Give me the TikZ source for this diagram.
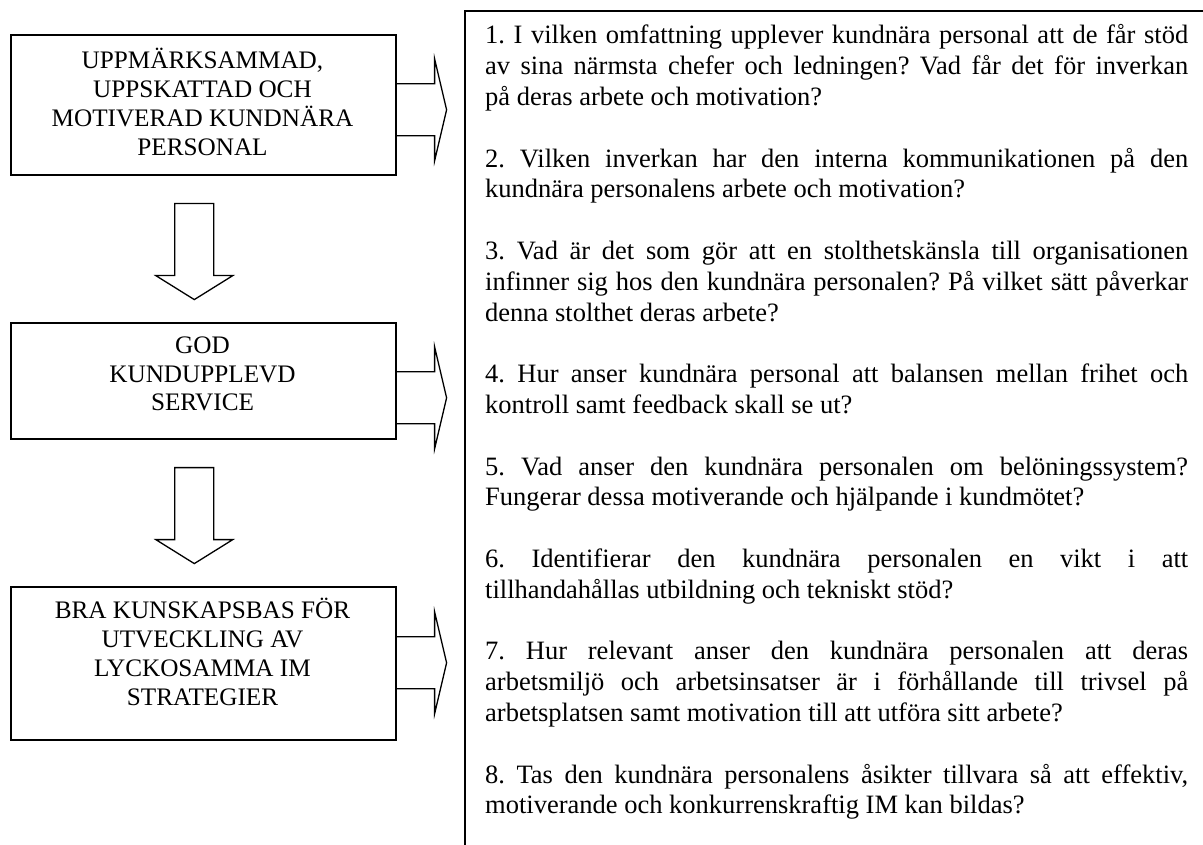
\documentclass[tikz,border=0pt]{standalone}
\usepackage{fontspec}
\setmainfont{Liberation Serif}
\usetikzlibrary{calc}
\tikzset{
  box/.style={draw, line width=1.6pt, inner sep=0pt, anchor=north west},
  boxtext/.style={inner sep=0pt, anchor=base},
  blockarrow/.style={draw, line width=1.3pt, line join=miter},
}
\newcommand{\boxfont}{\fontsize{25.2pt}{29pt}\selectfont}
\newcommand{\qfont}{\fontsize{26.5pt}{30.8pt}\selectfont}
\frenchspacing
\begin{document}
\begin{tikzpicture}[x=1pt,y=-1pt]
\useasboundingbox (0,0) rectangle (1203,845);
\clip (0,0) rectangle (1203,845);

% left boxes
\node[box, minimum width=385pt, minimum height=140pt] (b1) at (10,34) {};
\node[box, minimum width=385pt, minimum height=116pt] (b2) at (10,322) {};
\node[box, minimum width=385pt, minimum height=153pt] (b3) at (10,586) {};

\node[boxtext] (t1) at (202.5,68.3) {\parbox[t]{380pt}{\centering\boxfont UPPMÄRKSAMMAD,\\UPPSKATTAD OCH\\MOTIVERAD KUNDNÄRA\\PERSONAL}};
\node[boxtext] (t2) at (202.5,353) {\parbox[t]{380pt}{\centering\boxfont GOD\\KUNDUPPLEVD\\SERVICE}};
\node[boxtext] (t3) at (202.5,618) {\parbox[t]{380pt}{\centering\boxfont BRA KUNSKAPSBAS FÖR\\UTVECKLING AV\\LYCKOSAMMA IM\\STRATEGIER}};

% right block arrows
\draw[blockarrow] ($(b1.east)+(0,-21)$) -- ++(38,0) -- ++(0,-25) -- ++(12,51) -- ++(-12,51) -- ++(0,-25) -- ++(-38,0);
\draw[blockarrow] ($(b2.east)+(0,-9)$) -- ++(38,0) -- ++(0,-25) -- ++(12,51) -- ++(-12,51) -- ++(0,-25) -- ++(-38,0);
\draw[blockarrow] ($(b3.east)+(0,-26.5)$) -- ++(38,0) -- ++(0,-25) -- ++(12,51) -- ++(-12,51) -- ++(0,-25) -- ++(-38,0);

% down block arrows
\draw[blockarrow] ($(b1.south)+(-28.5,28)$) -- ++(0,72) -- ++(-19,0) -- ++(38.5,24) -- ++(38.5,-24) -- ++(-19,0) -- ++(0,-72) -- cycle;
\draw[blockarrow] ($(b2.south)+(-28.5,28)$) -- ++(0,72) -- ++(-19,0) -- ++(38.5,24) -- ++(38.5,-24) -- ++(-19,0) -- ++(0,-72) -- cycle;

% question box
\node[box, minimum width=800pt, minimum height=900pt] (qbox) at (464,10) {};
\node[inner sep=0pt, anchor=base west] (qtext) at (485,44) {\parbox[t]{703pt}{\qfont\frenchspacing
\setlength{\parskip}{30.8pt}\setlength{\parindent}{0pt}%
\tolerance=10000 \hyphenpenalty=10000 \exhyphenpenalty=10000 \hbadness=10000
1. I vilken omfattning upplever kundnära personal att de får stöd\linebreak
av sina närmsta chefer och ledningen? Vad får det för inverkan\linebreak
på deras arbete och motivation?\par
2. Vilken inverkan har den interna kommunikationen på den\linebreak
kundnära personalens arbete och motivation?\par
3. Vad är det som gör att en stolthetskänsla till organisationen\linebreak
infinner sig hos den kundnära personalen? På vilket sätt påverkar\linebreak
denna stolthet deras arbete?\par
4. Hur anser kundnära personal att balansen mellan frihet och\linebreak
kontroll samt feedback skall se ut?\par
5. Vad anser den kundnära personalen om belöningssystem?\linebreak
Fungerar dessa motiverande och hjälpande i kundmötet?\par
6. Identifierar den kundnära personalen en vikt i att\linebreak
tillhandahållas utbildning och tekniskt stöd?\par
7. Hur relevant anser den kundnära personalen att deras\linebreak
arbetsmiljö och arbetsinsatser är i förhållande till trivsel på\linebreak
arbetsplatsen samt motivation till att utföra sitt arbete?\par
8. Tas den kundnära personalens åsikter tillvara så att effektiv,\linebreak
motiverande och konkurrenskraftig IM kan bildas?\par}};
\end{tikzpicture}
\end{document}
